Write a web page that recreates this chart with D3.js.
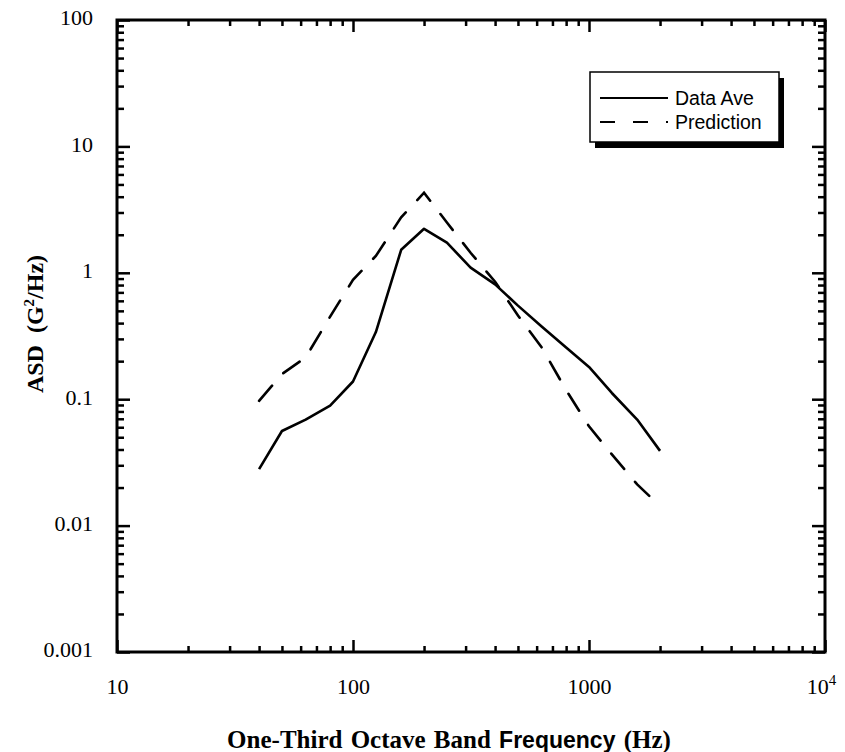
<!DOCTYPE html>
<html>
<head>
<meta charset="utf-8">
<script src="https://cdn.jsdelivr.net/npm/d3@7"></script>
<style>
  body { margin: 0; background: #fff; }
  .axis path, .axis line { stroke: #000; }
  .axis text { font-family: "Liberation Serif", "Times New Roman", serif; font-size: 22px; fill: #000; }
</style>
</head>
<body>
<svg id="chart" width="845" height="752"></svg>
<script>
// one-third octave band centre frequencies
const freqAve = [40, 50, 63, 80, 100, 125, 160, 200, 250, 315, 400, 500, 630, 800, 1000, 1250, 1600, 2000];
const dataAve = [0.028, 0.056, 0.069, 0.089, 0.138, 0.34, 1.52, 2.23, 1.73, 1.1, 0.81, 0.55, 0.376, 0.256, 0.18, 0.112, 0.069, 0.039];

const freqPred = [40, 50, 63, 80, 100, 125, 160, 200, 250, 315, 400, 500, 630, 800, 1000, 1250, 1600, 1800];
const dataPred = [0.097, 0.158, 0.214, 0.45, 0.88, 1.36, 2.75, 4.3, 2.5, 1.44, 0.85, 0.46, 0.257, 0.118, 0.061, 0.0366, 0.0212, 0.0172];

const xTicks = [10, 100, 1000, 10000];
const xTickLabels = ["10", "100", "1000", "10^4"];
const yTicks = [0.001, 0.01, 0.1, 1, 10, 100];
const yTickLabels = ["0.001", "0.01", "0.1", "1", "10", "100"];
const legendNames = ["Data Ave", "Prediction"];

const margin = {top: 20, right: 20, bottom: 100, left: 117};
const innerW = 825 - margin.left;
const innerH = 652 - margin.top;

const svg = d3.select("#chart");
const g = svg.append("g").attr("transform", `translate(${margin.left},${margin.top})`);

const x = d3.scaleLog().domain([10, 10000]).range([0, innerW]);
const y = d3.scaleLog().domain([0.001, 100]).range([innerH, 0]);

// minor ticks 2..9 in every decade
function minors(lo, hi) {
  const out = [];
  for (let d = lo; d < hi; d *= 10) {
    for (let k = 2; k <= 9; k++) out.push(d * k);
  }
  return out;
}
const xMinor = minors(10, 10000);
const yMinor = minors(0.001, 100);

function styleAxis(sel) {
  sel.select(".domain").remove();
  sel.selectAll("line").attr("stroke-width", 2.5);
}

// minor ticks (inward)
g.append("g").attr("class", "axis").attr("transform", `translate(0,${innerH})`)
  .call(d3.axisBottom(x).tickValues(xMinor).tickSize(-6).tickFormat("")).call(styleAxis);
g.append("g").attr("class", "axis")
  .call(d3.axisTop(x).tickValues(xMinor).tickSize(-6).tickFormat("")).call(styleAxis);
g.append("g").attr("class", "axis")
  .call(d3.axisLeft(y).tickValues(yMinor).tickSize(-7).tickFormat("")).call(styleAxis);
g.append("g").attr("class", "axis").attr("transform", `translate(${innerW},0)`)
  .call(d3.axisRight(y).tickValues(yMinor).tickSize(-7).tickFormat("")).call(styleAxis);

// major ticks
const xb = g.append("g").attr("class", "axis").attr("transform", `translate(0,${innerH})`)
  .call(d3.axisBottom(x).tickValues(xTicks).tickSizeInner(-12).tickSizeOuter(0).tickPadding(0).tickFormat(""))
  .call(styleAxis);
g.append("g").attr("class", "axis")
  .call(d3.axisTop(x).tickValues(xTicks).tickSizeInner(-12).tickSizeOuter(0).tickFormat("")).call(styleAxis);
g.append("g").attr("class", "axis")
  .call(d3.axisLeft(y).tickValues(yTicks).tickSizeInner(-13).tickSizeOuter(0).tickPadding(24)
    .tickFormat((d, i) => yTickLabels[i]))
  .call(styleAxis)
  .selectAll("text").attr("dy", "0.22em");
g.append("g").attr("class", "axis").attr("transform", `translate(${innerW},0)`)
  .call(d3.axisRight(y).tickValues(yTicks).tickSizeInner(-13).tickSizeOuter(0).tickFormat("")).call(styleAxis);

// x tick labels (10^4 with superscript)
xb.selectAll(".tick").each(function(d, i) {
  const t = d3.select(this).append("text")
    .attr("y", 42).attr("fill", "#000").attr("text-anchor", "middle");
  const lab = xTickLabels[i];
  if (lab.includes("^")) {
    const [b, e] = lab.split("^");
    t.attr("dx", "-4");
    t.append("tspan").text(b);
    t.append("tspan").attr("dy", -9).attr("font-size", 15).text(e);
  } else {
    t.text(lab);
  }
});

// frame
g.append("rect").attr("width", innerW).attr("height", innerH)
  .attr("fill", "none").attr("stroke", "#000").attr("stroke-width", 3);

// lines
const line = d3.line().x(d => x(d[0])).y(d => y(d[1]));
g.append("path")
  .attr("d", line(freqAve.map((f, i) => [f, dataAve[i]])))
  .attr("fill", "none").attr("stroke", "#000").attr("stroke-width", 2.6)
  .attr("stroke-linejoin", "round");
const pred = g.append("path")
  .attr("d", line(freqPred.map((f, i) => [f, dataPred[i]])))
  .attr("fill", "none").attr("stroke", "#000").attr("stroke-width", 2.6)
  .attr("stroke-linecap", "round");
// fit dashes so the line starts and ends with a dash
const L = pred.node().getTotalLength();
const dash = 20;
const n = Math.round((L - dash) / 36);
const gap = (L - dash) / n - dash;
pred.attr("stroke-dasharray", `${dash},${gap}`);

// legend
const lg = svg.append("g").attr("transform", "translate(590,72)");
lg.append("rect").attr("x", 5).attr("y", 6).attr("width", 189).attr("height", 70).attr("fill", "#000");
lg.append("rect").attr("width", 189).attr("height", 70)
  .attr("fill", "#fff").attr("stroke", "#000").attr("stroke-width", 1.5);
legendNames.forEach((name, i) => {
  const yy = 26 + i * 24;
  lg.append("line").attr("x1", 10).attr("x2", 78).attr("y1", yy).attr("y2", yy)
    .attr("stroke", "#000").attr("stroke-width", 1.8)
    .attr("stroke-dasharray", i === 1 ? "15,18" : null);
  lg.append("text").attr("x", 85).attr("y", yy + 7)
    .attr("font-family", "'Liberation Sans', Arial, sans-serif").attr("font-size", 19.5)
    .text(name);
});

// axis titles
const xt = svg.append("text").attr("x", 449).attr("y", 748).attr("text-anchor", "middle")
  .attr("font-weight", "bold").attr("font-size", 25).attr("word-spacing", 2)
  .attr("font-family", "'Liberation Serif', 'Times New Roman', serif");
xt.append("tspan").text("One-Third Octave Band ");
xt.append("tspan").attr("font-family", "'Liberation Sans', Arial, sans-serif").attr("font-size", 23).text("Frequency");
xt.append("tspan").text(" (Hz)");

const yt = svg.append("text").attr("transform", "translate(43,324) rotate(-90)")
  .attr("text-anchor", "middle").attr("font-weight", "bold").attr("font-size", 24)
  .attr("font-family", "'Liberation Serif', 'Times New Roman', serif");
yt.append("tspan").text("ASD");
yt.append("tspan").attr("dx", 12).text("(G");
yt.append("tspan").attr("dy", -9).attr("font-size", 15).text("2");
yt.append("tspan").attr("dy", 9).text("/Hz)");
</script>
</body>
</html>
